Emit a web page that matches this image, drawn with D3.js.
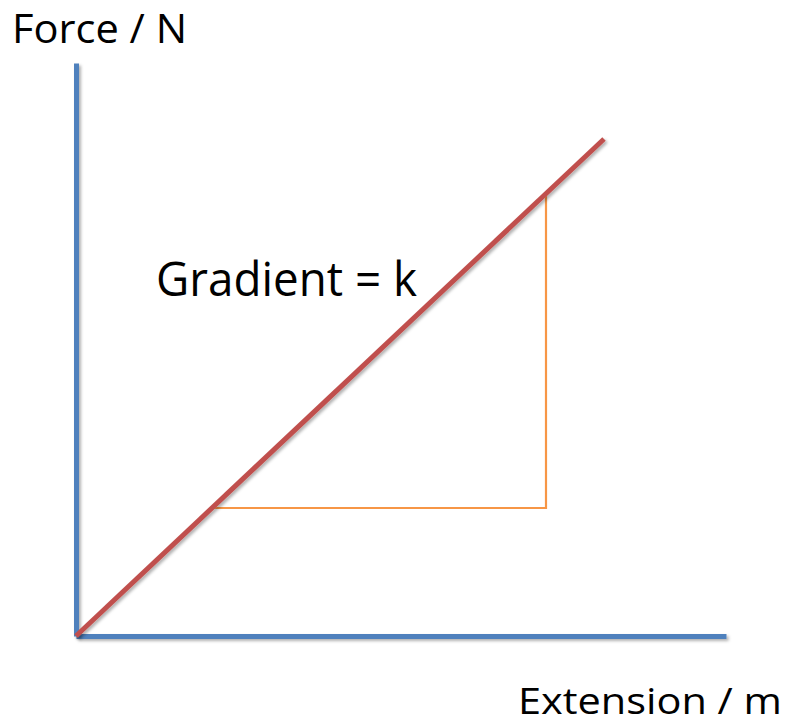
<!DOCTYPE html>
<html>
<head>
<meta charset="utf-8">
<script src="https://cdn.jsdelivr.net/npm/d3@7"></script>
<style>
  body { margin: 0; background: #fff; }
  svg { display: block; }
  text { font-family: "Open Sans", "Liberation Sans", sans-serif; fill: #000; }
</style>
</head>
<body>
<svg id="chart"></svg>
<script>
// data (extension in arbitrary units, force in arbitrary units)
var extension = [0, 5.28];
var force = [0, 4.97];
var triExtension = [1.36, 4.70, 4.70];
var triForce = [1.28, 1.28, 4.42];
var xMax = 6.5;
var yMax = 5.73;
var yLabel = "Force / N";
var xLabel = "Extension / m";
var note = "Gradient = k";

var svgWidth = 786;
var svgHeight = 725;
var plotLeft = 76, plotBottom = 636, plotRight = 726, plotTop = 63;

var svg = d3.select("#chart").attr("width", svgWidth).attr("height", svgHeight);

// soft shadow under the thick lines; big region so translated groups are not clipped
svg.append("defs").append("filter")
    .attr("id", "shadow")
    .attr("filterUnits", "userSpaceOnUse")
    .attr("x", -1000).attr("y", -1000).attr("width", 3000).attr("height", 3000)
    .append("feDropShadow")
    .attr("dx", 2).attr("dy", 2).attr("stdDeviation", 1.5)
    .attr("flood-color", "#000").attr("flood-opacity", 0.3);

var xScale = d3.scaleLinear().domain([0, xMax]).range([plotLeft, plotRight]);
var yScale = d3.scaleLinear().domain([0, yMax]).range([plotBottom, plotTop]);

var line = d3.line()
    .x(function (d) { return xScale(d[0]); })
    .y(function (d) { return yScale(d[1]); });

// axes: plain lines, no ticks
var xAxis = svg.append("g")
    .attr("transform", "translate(0," + plotBottom + ")")
    .call(d3.axisBottom(xScale).tickValues([]).tickSizeOuter(0));
var yAxis = svg.append("g")
    .attr("transform", "translate(" + plotLeft + ",0)")
    .call(d3.axisLeft(yScale).tickValues([]).tickSizeOuter(0));

[xAxis, yAxis].forEach(function (g) {
    g.select(".domain")
        .attr("stroke", "#4F81BD")
        .attr("stroke-width", 5)
        .attr("filter", "url(#shadow)");
});

// orange gradient triangle
var tri = triExtension.map(function (d, i) { return [d, triForce[i]]; });
svg.append("path")
    .attr("d", line(tri))
    .attr("fill", "none")
    .attr("stroke", "#F79646")
    .attr("stroke-width", 2.2);

// red line
var pts = extension.map(function (d, i) { return [d, force[i]]; });
svg.append("path")
    .attr("d", line(pts))
    .attr("fill", "none")
    .attr("stroke", "#C0504D")
    .attr("stroke-width", 5)
    .attr("filter", "url(#shadow)");

// labels
svg.append("text")
    .attr("x", 12).attr("y", 43)
    .style("font-size", "41px")
    .attr("textLength", 175).attr("lengthAdjust", "spacingAndGlyphs")
    .text(yLabel);

svg.append("text")
    .attr("x", 518).attr("y", 714)
    .style("font-size", "37px")
    .attr("textLength", 264).attr("lengthAdjust", "spacingAndGlyphs")
    .text(xLabel);

svg.append("text")
    .attr("x", 156).attr("y", 296)
    .style("font-size", "47px")
    .attr("textLength", 261).attr("lengthAdjust", "spacingAndGlyphs")
    .text(note);
</script>
</body>
</html>
